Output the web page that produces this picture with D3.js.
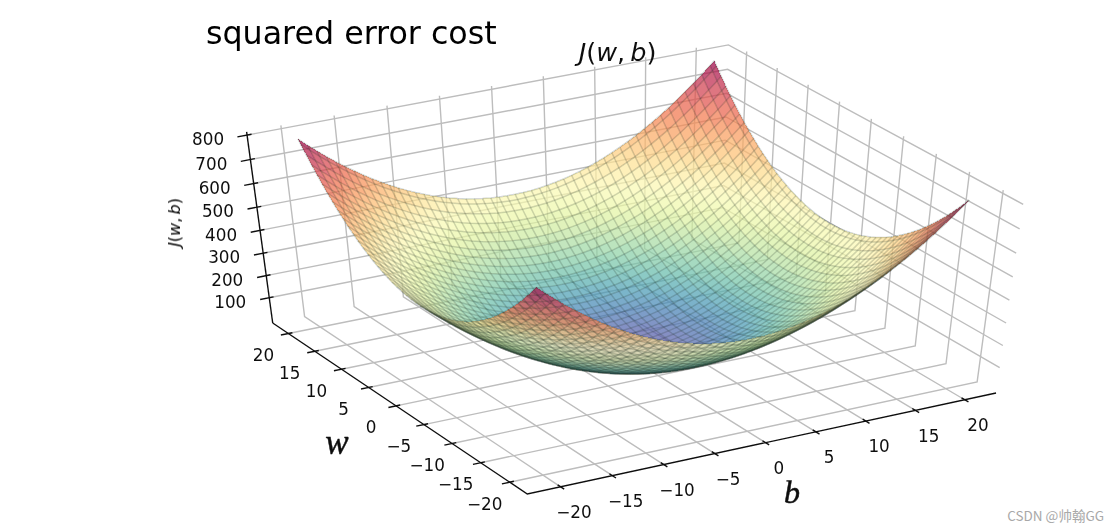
<!DOCTYPE html>
<html>
<head>
<meta charset="utf-8">
<script src="https://cdn.jsdelivr.net/npm/d3@7"></script>
<style>
  html, body { margin: 0; background: #fff; }
  svg { display: block; }
  text { font-family: "DejaVu Sans", sans-serif; fill: #111; }
</style>
</head>
<body>
<svg id="chart" width="1119" height="532"></svg>
<script>
const bTicks = [-20, -15, -10, -5, 0, 5, 10, 15, 20];
const wTicks = [-20, -15, -10, -5, 0, 5, 10, 15, 20];
const zTicks = [100, 200, 300, 400, 500, 600, 700, 800];

// mesh lines of the surface, same for b and w
const meshValues = [
  -20, -19.19, -18.38, -17.58, -16.77, -15.96, -15.15, -14.34, -13.54, -12.73,
  -11.92, -11.11, -10.3, -9.49, -8.69, -7.88, -7.07, -6.26, -5.45, -4.65,
  -3.84, -3.03, -2.22, -1.41, -0.61, 0.2, 1.01, 1.82, 2.63, 3.43,
  4.24, 5.05, 5.86, 6.67, 7.47, 8.28, 9.09, 9.9, 10.71, 11.52,
  12.32, 13.13, 13.94, 14.75, 15.56, 16.36, 17.17, 17.98, 18.79, 19.6, 20
];
// cost contributed by each mesh line; a surface height is the sum of its b part and w part
const meshCost = [
  400, 368.3, 338, 308.9, 281.2, 254.7, 229.6, 205.7, 183.2, 162,
  142.1, 123.5, 106.1, 90.1, 75.5, 62.1, 50, 39.2, 29.8, 21.6,
  14.8, 9.2, 4.9, 2, 0.4, 0, 1, 3.3, 6.9, 11.8,
  18, 25.5, 34.3, 44.5, 55.9, 68.6, 82.6, 98, 114.7, 132.6,
  151.9, 172.5, 194.4, 217.5, 242, 267.8, 294.9, 323.3, 353, 384, 400
];

const bRange = [-23.2, 23.2];
const wRange = [-23, 23];
const zRange = [-16.7, 800];
const zTop = 813;

const sScale = d3.scaleLinear().domain(bRange).range([0, 1]);
const rScale = d3.scaleLinear().domain(wRange).range([0, 1]);
const qScale = d3.scaleLinear().domain(zRange).range([0, 1]);

// camera fitted to the box corners of the picture
function depth(b, w, z) {
  return 1 + 0.0331 * sScale(b) + 0.0634 * rScale(w) - 0.0713 * qScale(z);
}
function project(b, w, z) {
  const s = sScale(b), r = rScale(w), q = qScale(z);
  const d = depth(b, w, z);
  return [
    (501.7 * s - 237.3 * r - 44.9 * q + 527.3) / d,
    (-88 * s - 150.5 * r - 209.5 * q + 494) / d
  ];
}

const svg = d3.select('#chart');
const line = d3.line();

const defs = svg.append('defs');
function addBlur(id, amount) {
  defs.append('filter').attr('id', id)
    .attr('filterUnits', 'userSpaceOnUse')
    .attr('x', 0).attr('y', 0)
    .attr('width', 1119).attr('height', 532)
    .append('feGaussianBlur').attr('stdDeviation', amount);
}
addBlur('soft', 0.75);
addBlur('softer', 0.4);

// walls and floor
const grid = svg.append('g').attr('fill', 'none').attr('stroke', '#bdbdbd').attr('stroke-width', 1.4)
  .attr('filter', 'url(#softer)');
function addGrid(points) {
  grid.append('path').attr('d', line(points.map((p) => project(...p))));
}
bTicks.forEach((b) => addGrid([[b, wRange[0], zRange[0]], [b, wRange[1], zRange[0]], [b, wRange[1], zTop]]));
wTicks.forEach((w) => addGrid([[bRange[0], w, zRange[0]], [bRange[1], w, zRange[0]], [bRange[1], w, zTop]]));
zTicks.forEach((z) => addGrid([[bRange[0], wRange[1], z], [bRange[1], wRange[1], z], [bRange[1], wRange[0], z]]));

// surface cells, far ones first
const heights = (i, j) => meshCost[i] + meshCost[j];
const cells = [];
for (let i = 0; i < meshValues.length - 1; i++) {
  for (let j = 0; j < meshValues.length - 1; j++) {
    const corners = [[i, j], [i + 1, j], [i + 1, j + 1], [i, j + 1]]
      .map(([a, c]) => [meshValues[a], meshValues[c], heights(a, c)]);
    cells.push({
      corners,
      mean: d3.mean(corners, (c) => c[2]),
      far: d3.mean(corners, (c) => depth(...c))
    });
  }
}
cells.sort((a, b) => d3.descending(a.far, b.far));

const color = d3.scaleSequential((t) => d3.interpolateSpectral(1 - t))
  .domain(d3.extent(cells, (c) => c.mean));

const surface = svg.append('g').attr('filter', 'url(#soft)');
surface.selectAll('path.cell')
  .data(cells)
  .join('path')
  .attr('class', 'cell')
  .attr('d', (c) => line(c.corners.map((p) => project(...p))) + 'Z')
  .attr('fill', (c) => color(c.mean))
  .attr('fill-opacity', 0.7)
  .attr('shape-rendering', 'crispEdges');

// wireframe
const wire = surface.append('g').attr('fill', 'none').attr('stroke', '#1c2a22')
  .attr('stroke-opacity', 0.19).attr('stroke-width', 1.5);
meshValues.forEach((_, i) => {
  wire.append('path').attr('d', line(meshValues.map((_, j) => project(meshValues[i], meshValues[j], heights(i, j)))));
  wire.append('path').attr('d', line(meshValues.map((_, j) => project(meshValues[j], meshValues[i], heights(j, i)))));
});

// axis lines and ticks
const axes = svg.append('g').attr('fill', 'none').attr('stroke', '#111').attr('stroke-width', 1.4)
  .attr('filter', 'url(#softer)');
function addAxis(points) {
  axes.append('path').attr('d', line(points.map((p) => project(...p))));
}
addAxis([[bRange[0], wRange[1], zTop], [bRange[0], wRange[1], zRange[0]]]);
addAxis([[bRange[0], wRange[1], zRange[0]], [bRange[0], wRange[0], zRange[0]], [bRange[1], wRange[0], zRange[0]]]);
bTicks.forEach((b) => addAxis([[b, wRange[0] + 0.5, zRange[0]], [b, wRange[0] - 0.6, zRange[0]]]));
wTicks.forEach((w) => addAxis([[bRange[0] + 0.4, w, zRange[0]], [bRange[0] - 0.75, w, zRange[0]]]));
zTicks.forEach((z) => addAxis([[bRange[0] + 0.42, wRange[1], z], [bRange[0] - 0.9, wRange[1], z]]));

// tick labels
const tickLabels = svg.append('g').attr('font-size', 16.8).attr('text-anchor', 'middle')
  .attr('filter', 'url(#softer)');
function fmt(v) {
  return v < 0 ? '\u2212' + Math.abs(v) : String(v);
}
function addTickLabel(pos, dx, dy, value) {
  tickLabels.append('text')
    .attr('x', pos[0] + dx).attr('y', pos[1] + dy)
    .attr('dy', '0.36em')
    .text(fmt(value));
}
bTicks.forEach((b) => addTickLabel(project(b, wRange[0], zRange[0]), 13.3, 25.3, b));
wTicks.forEach((w) => addTickLabel(project(bRange[0], w, zRange[0]), -25, 21.5, w));
zTicks.forEach((z) => addTickLabel(project(bRange[0], wRange[1], z), -39, 4.2, z));

// J(w, b) with upright brackets, the way mathtext sets it
function addCostLabel(sel) {
  [['J', 'italic'], ['(', 'normal'], ['w', 'italic'], [',\u2009', 'normal'], ['b', 'italic'], [')', 'normal']]
    .forEach(([t, style]) => sel.append('tspan').attr('font-style', style).text(t));
}

const titles = svg.append('g').attr('filter', 'url(#softer)');
titles.append('text').attr('x', 206).attr('y', 44).attr('font-size', 31.7).style('fill', '#000')
  .text('squared error cost');
addCostLabel(titles.append('text').attr('x', 617.5).attr('y', 61).attr('text-anchor', 'middle')
  .attr('font-size', 25.5));
addCostLabel(titles.append('text').attr('transform', 'translate(180,222.5) rotate(-90)')
  .attr('text-anchor', 'middle').attr('font-size', 16).style('fill', '#000'));
titles.append('text').attr('x', 337).attr('y', 454).attr('text-anchor', 'middle')
  .attr('font-size', 35).attr('font-style', 'italic')
  .attr('stroke', '#111').attr('stroke-width', 0.5)
  .style('font-family', '"Liberation Serif", serif').text('w');
titles.append('text').attr('x', 792).attr('y', 503).attr('text-anchor', 'middle')
  .attr('font-size', 32).attr('font-style', 'italic')
  .attr('stroke', '#111').attr('stroke-width', 0.5)
  .style('font-family', '"Liberation Serif", serif').text('b');

// watermark
svg.append('text').attr('x', 1104).attr('y', 521).attr('text-anchor', 'end')
  .attr('font-size', 13.5).style('fill', '#a8a8a8')
  .style('font-family', '"Noto Sans CJK SC", sans-serif').text('CSDN @帅翰GG');
</script>
</body>
</html>
